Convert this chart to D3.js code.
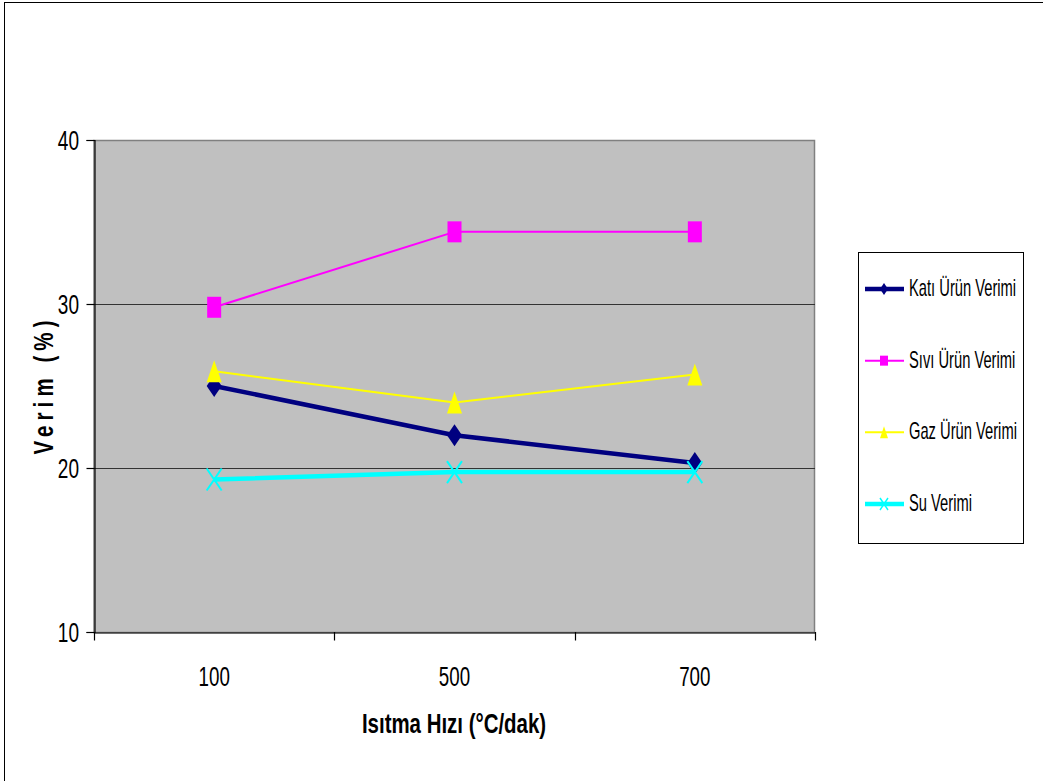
<!DOCTYPE html>
<html><head><meta charset="utf-8">
<script src="https://cdn.jsdelivr.net/npm/d3@7"></script>
<style>
html,body{margin:0;padding:0;background:#fff;}
svg{display:block;font-family:"Liberation Sans",Arial,sans-serif;}
</style></head>
<body>
<svg id="chart" width="1043" height="781"></svg>
<script>
const categories = ["100", "500", "700"];
const seriesNames = ["Katı Ürün Verimi", "Sıvı Ürün Verimi", "Gaz Ürün Verimi", "Su Verimi"];
const katiValues = [25.0, 22.0, 20.3];
const siviValues = [29.8, 34.4, 34.4];
const gazValues  = [25.9, 24.0, 25.7];
const suValues   = [19.3, 19.75, 19.75];
const yTicks = [10, 20, 30, 40];
const xTitle = "Isıtma Hızı (°C/dak)";
const yTitle = "Verim (%)";

const series = [
  {name: seriesNames[0], values: katiValues, color: "#000080", width: 4.5, marker: "diamond"},
  {name: seriesNames[1], values: siviValues, color: "#ff00ff", width: 2, marker: "square"},
  {name: seriesNames[2], values: gazValues,  color: "#ffff00", width: 2, marker: "triangle"},
  {name: seriesNames[3], values: suValues,   color: "#00ffff", width: 4.5, marker: "x"}
];

const svg = d3.select("#chart");
// outer frame
svg.append("rect").attr("x", 4.5).attr("y", 2.5).attr("width", 1045).attr("height", 790)
  .attr("fill", "#fff").attr("stroke", "#000").attr("stroke-width", 1);

const plot = {l: 94, r: 815, t: 140, b: 632};
const x = d3.scaleBand().domain(categories).range([plot.l, plot.r]);
const y = d3.scaleLinear().domain([10, 40]).range([plot.b, plot.t]);
const cx = c => x(c) + x.bandwidth() / 2;

svg.append("rect").attr("x", plot.l).attr("y", plot.t + 0.5)
  .attr("width", plot.r - plot.l - 0.5).attr("height", plot.b - plot.t)
  .attr("fill", "#c0c0c0").attr("stroke", "#808080").attr("stroke-width", 1.5);

// gridlines
svg.append("g").selectAll("line").data(yTicks.filter(t => t > 10 && t < 40)).join("line")
  .attr("x1", plot.l).attr("x2", plot.r).attr("y1", d => y(d) + 0.5).attr("y2", d => y(d) + 0.5)
  .attr("stroke", "#333").attr("stroke-width", 1.2);

// y axis
const yAxis = svg.append("g").attr("transform", `translate(${plot.l + 0.5},0)`)
  .call(d3.axisLeft(y).tickValues(yTicks).tickSize(8).tickFormat(""));
yAxis.select(".domain").attr("stroke", "#000").attr("stroke-width", 1.2);
yAxis.selectAll(".tick line").attr("stroke", "#000").attr("stroke-width", 1.2);
svg.append("g").selectAll("text").data(yTicks).join("text")
  .attr("transform", d => `translate(79,${y(d) + 9.5}) scale(0.68,1)`)
  .attr("text-anchor", "end").attr("font-size", 28).attr("fill", "#000")
  .text(d => d);

// x axis
const xAxis = svg.append("g").attr("transform", `translate(0,${plot.b + 0.5})`)
  .call(d3.axisBottom(x).tickSize(0).tickFormat(""));
xAxis.select(".domain").attr("stroke", "#000").attr("stroke-width", 1.2);
xAxis.selectAll(".tick").remove();
const bounds = categories.map(c => x(c)).concat([x(categories[categories.length - 1]) + x.bandwidth()]);
svg.append("g").selectAll("line").data(bounds).join("line")
  .attr("x1", d => Math.round(d) + 0.5).attr("x2", d => Math.round(d) + 0.5)
  .attr("y1", plot.b).attr("y2", plot.b + 8.5)
  .attr("stroke", "#000").attr("stroke-width", 1.2);
svg.append("g").selectAll("text").data(categories).join("text")
  .attr("transform", d => `translate(${cx(d)},686) scale(0.67,1)`)
  .attr("text-anchor", "middle").attr("font-size", 28).attr("fill", "#000")
  .text(d => d);

// axis titles
svg.append("text").attr("transform", `translate(454,733) scale(0.73,1)`)
  .attr("text-anchor", "middle").attr("font-size", 28).attr("font-weight", "bold")
  .text(xTitle);
svg.append("text").attr("transform", `translate(53,385) rotate(-90) scale(0.73,1)`)
  .attr("text-anchor", "middle").attr("font-size", 28).attr("font-weight", "bold")
  .attr("letter-spacing", 7).text(yTitle);

// marker paths (w x h)
function markerPath(type, w, h) {
  const a = w / 2, b = h / 2;
  if (type === "diamond") return `M0,${-b}L${a},0L0,${b}L${-a},0Z`;
  if (type === "square") return `M${-a},${-b}H${a}V${b}H${-a}Z`;
  if (type === "triangle") return `M0,${-b}L${a},${b}L${-a},${b}Z`;
  if (type === "x") return `M${-a},${-b}L${a},${b}M${a},${-b}L${-a},${b}`;
}

const line = d3.line().x(d => d.x).y(d => d.y);
series.forEach(s => {
  const pts = s.values.map((v, i) => ({x: cx(categories[i]), y: y(v)}));
  svg.append("path").attr("d", line(pts)).attr("fill", "none")
    .attr("stroke", s.color).attr("stroke-width", s.width).attr("stroke-linejoin", "round");
  svg.append("g").selectAll("path").data(pts).join("path")
    .attr("transform", d => `translate(${d.x},${d.y})`)
    .attr("d", markerPath(s.marker, s.marker === "square" ? 14 : 15, s.marker === "square" ? 21 : 22))
    .attr("fill", s.marker === "x" ? "none" : s.color)
    .attr("stroke", s.color).attr("stroke-width", s.marker === "x" ? 2 : 0);
});

// legend
svg.append("rect").attr("x", 858.5).attr("y", 252.5).attr("width", 165).attr("height", 291)
  .attr("fill", "#fff").attr("stroke", "#000").attr("stroke-width", 1);
const legY = d3.scalePoint().domain(seriesNames).range([289, 504]);
const leg = svg.append("g").selectAll("g").data(series).join("g")
  .attr("transform", d => `translate(0,${legY(d.name)})`);
leg.append("line").attr("x1", 865).attr("x2", 904).attr("y1", 0).attr("y2", 0)
  .attr("stroke", d => d.color).attr("stroke-width", d => d.width);
leg.append("path").attr("transform", "translate(884,0)")
  .attr("d", d => markerPath(d.marker, 8, d.marker === "square" ? 10 : 12))
  .attr("fill", d => d.marker === "x" ? "none" : d.color)
  .attr("stroke", d => d.color).attr("stroke-width", d => d.marker === "x" ? 1.5 : 0);
leg.append("text").attr("transform", "translate(909,7) scale(0.64,1)")
  .attr("font-size", 23).attr("fill", "#000").text(d => d.name);
</script>
</body></html>
